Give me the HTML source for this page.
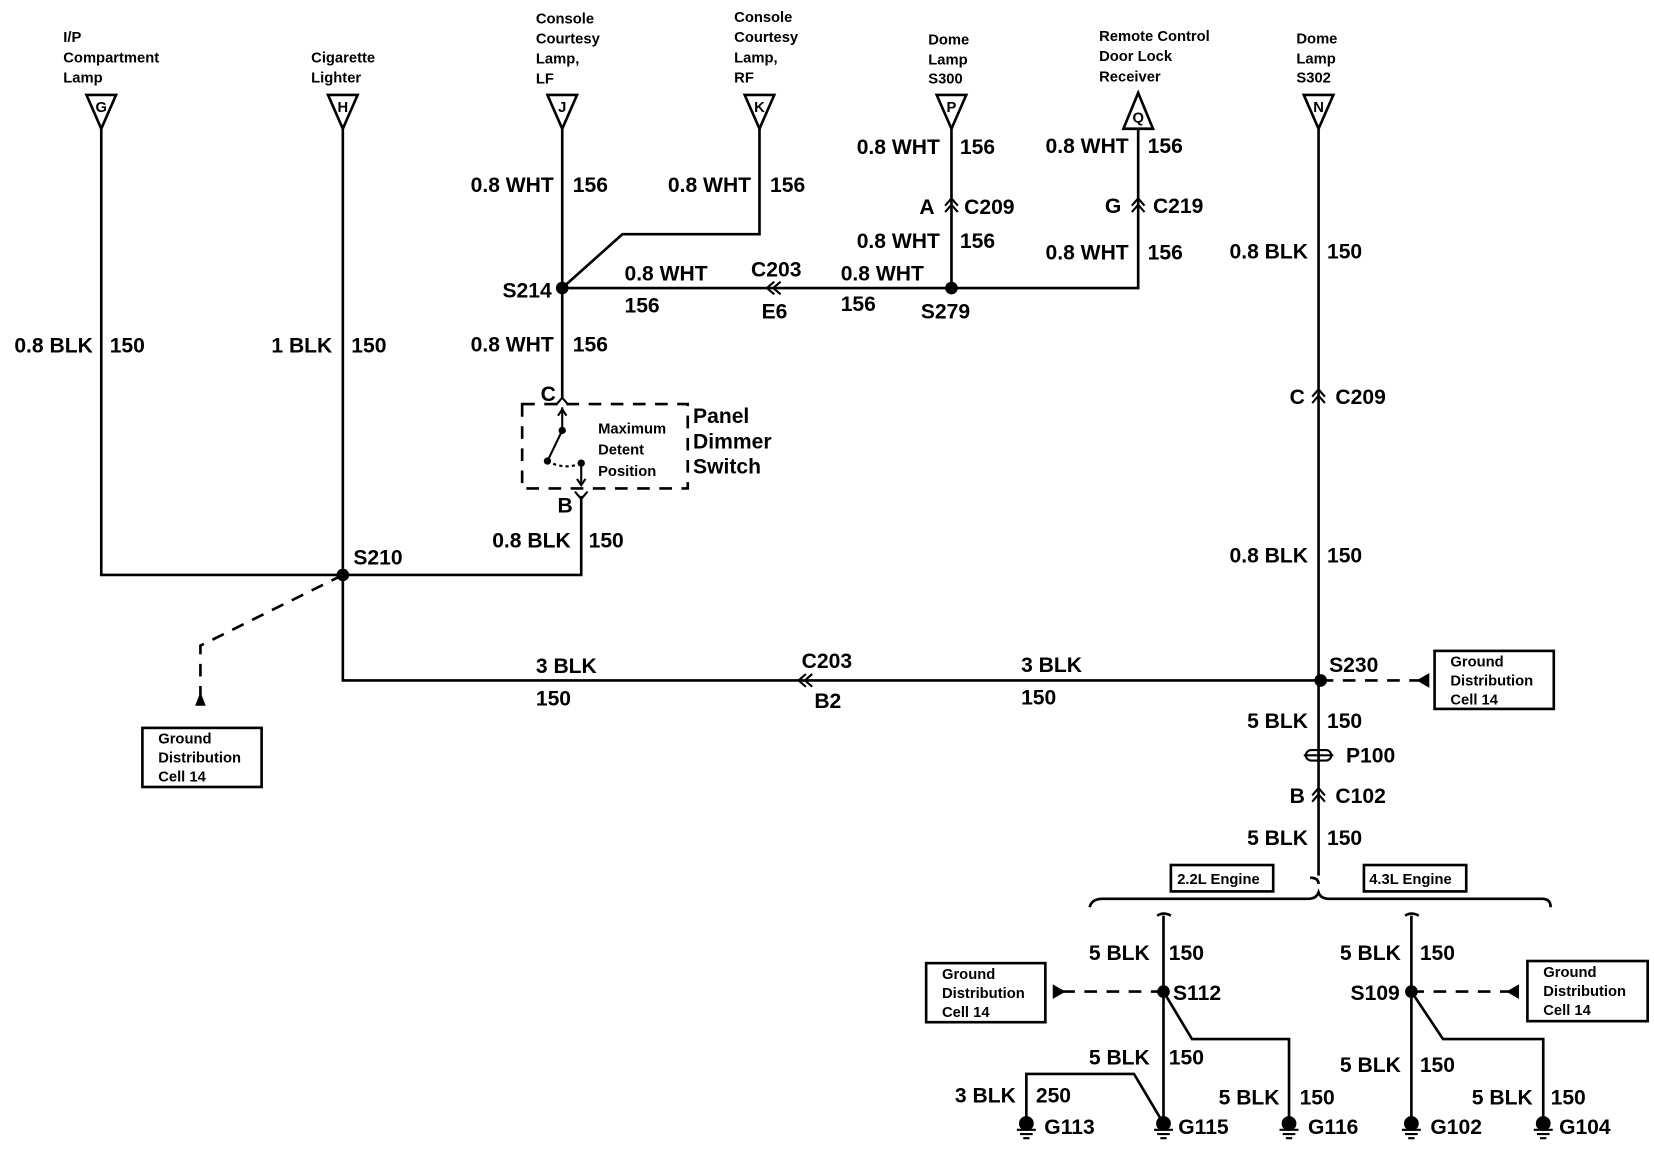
<!DOCTYPE html>
<html><head><meta charset="utf-8"><style>
html,body{margin:0;padding:0;background:#fff;}
svg{display:block;}
text{font-family:"Liberation Sans",Arial,sans-serif;font-weight:bold;fill:#000;}
.l{font-size:20px;}
.s{font-size:14px;}
.r{text-anchor:end;}
.m{text-anchor:middle;}
</style></head><body>
<svg width="1654" height="1152" viewBox="0 0 1568 1092" xmlns="http://www.w3.org/2000/svg">
<g fill="none" stroke="#000" stroke-width="2.5">
<path d="M82,90 L110,90 L96,122 Z"/>
<path d="M311,90 L339,90 L325,122 Z"/>
<path d="M519,90 L547,90 L533,122 Z"/>
<path d="M706,90 L734,90 L720,122 Z"/>
<path d="M888,90 L916,90 L902,122 Z"/>
<path d="M1065,122 L1093,122 L1079,88 Z"/>
<path d="M1236,90 L1264,90 L1250,122 Z"/>
<path d="M96,122 V545 H551 V470"/>
<path d="M325,122 V645 H1252"/>
<path d="M533,122 V378"/>
<path d="M533,273 L590,222 H720 V122"/>
<path d="M533,273 H1079 V122"/>
<path d="M902,122 V273"/>
<path d="M1250,122 V830"/>
<path d="M1242,832 Q1250,832 1250,838"/>
<path d="M1033,860 Q1035,852 1045,852 H1240 Q1248,852 1250,846 Q1252,852 1260,852 H1462 Q1470,852 1470,860"/>
<path d="M1103,868 V1065"/>
<path d="M1097,868 Q1103,864 1110,868"/>
<path d="M1103,940 L1130,985 H1222 V1065"/>
<path d="M973,1065 V1018 H1075 L1100,1060"/>
<path d="M1338,868 V1065"/>
<path d="M1332,868 Q1338,864 1345,868"/>
<path d="M1338,940 L1368,985 H1463 V1065"/>
<g stroke-dasharray="12,9">
<path d="M325,545 L190,612 V665"/>
<path d="M1252,645 H1345"/>
<path d="M1103,940 H1005"/>
<path d="M1338,940 H1432"/>
<rect x="495" y="383" width="157" height="80"/>
</g>
<rect x="135" y="690" width="113" height="56"/>
<rect x="1360" y="617" width="113" height="55"/>
<rect x="878" y="913" width="113" height="56"/>
<rect x="1448" y="911" width="114" height="57"/>
<rect x="1110" y="820" width="97" height="25"/>
<rect x="1293" y="820" width="97" height="25"/>
<path d="M896,201 L902,194 L908,201 M896,195 L902,188 L908,195" stroke-width="2"/>
<path d="M1073,201 L1079,194 L1085,201 M1073,195 L1079,188 L1085,195" stroke-width="2"/>
<path d="M1244,382 L1250,375 L1256,382 M1244,376 L1250,369 L1256,376" stroke-width="2"/>
<path d="M1244,760 L1250,753 L1256,760 M1244,754 L1250,747 L1256,754" stroke-width="2"/>
<path d="M740,267 L733,273 L740,279 M734,267 L727,273 L734,279" stroke-width="2"/>
<path d="M770,639 L763,645 L770,651 M764,639 L757,645 L764,651" stroke-width="2"/>
<path d="M527,384 L533,377 L539,384" stroke-width="2"/>
<path d="M545,466 L551,473 L557,466" stroke-width="2"/>
<path d="M533,386 V408 L519,437" stroke-width="2"/>
<path d="M533,388 l-4,6 M533,388 l4,6" stroke-width="2"/>
<path d="M519,437 Q535,446 551,439" stroke-dasharray="3,3" stroke-width="2"/>
<path d="M551,439 V460 M547,454 l4,6 l4,-6" stroke-width="2"/>
<rect x="1238" y="711" width="24" height="10" rx="5" stroke-width="2"/>
<path d="M1236,716 H1264" stroke-width="2"/>
</g>
<g fill="#000">
<circle cx="325" cy="545" r="6"/><circle cx="533" cy="273" r="6"/><circle cx="902" cy="273" r="6"/>
<circle cx="1252" cy="645" r="6"/><circle cx="1103" cy="940" r="6"/><circle cx="1338" cy="940" r="6"/>
<circle cx="533" cy="408" r="3.5"/><circle cx="519" cy="437" r="3.5"/><circle cx="551" cy="439" r="3.5"/>
<path d="M190,656 L185,669 L195,669 Z"/>
<path d="M1355,638 L1355,652 L1343,645 Z"/>
<path d="M998,933 L998,947 L1010,940 Z"/>
<path d="M1440,933 L1440,947 L1428,940 Z"/>
</g>
<g stroke="#000" stroke-width="2" fill="#000">
<g transform="translate(973,1065)"><circle r="6"/><path d="M-9,6 H9 M-6,10 H6 M-3,14 H3" fill="none"/></g>
<g transform="translate(1103,1065)"><circle r="6"/><path d="M-9,6 H9 M-6,10 H6 M-3,14 H3" fill="none"/></g>
<g transform="translate(1222,1065)"><circle r="6"/><path d="M-9,6 H9 M-6,10 H6 M-3,14 H3" fill="none"/></g>
<g transform="translate(1338,1065)"><circle r="6"/><path d="M-9,6 H9 M-6,10 H6 M-3,14 H3" fill="none"/></g>
<g transform="translate(1463,1065)"><circle r="6"/><path d="M-9,6 H9 M-6,10 H6 M-3,14 H3" fill="none"/></g>
</g>
<g class="s m"><text x="96" y="106">G</text><text x="325" y="106">H</text><text x="533" y="106">J</text><text x="720" y="106">K</text><text x="902" y="106">P</text><text x="1079" y="116">Q</text><text x="1250" y="106">N</text></g>
<g class="s">
<text x="60" y="40">I/P</text><text x="60" y="59">Compartment</text><text x="60" y="78">Lamp</text>
<text x="295" y="59">Cigarette</text><text x="295" y="78">Lighter</text>
<text x="508" y="22">Console</text><text x="508" y="41">Courtesy</text><text x="508" y="60">Lamp,</text><text x="508" y="79">LF</text>
<text x="696" y="21">Console</text><text x="696" y="40">Courtesy</text><text x="696" y="59">Lamp,</text><text x="696" y="78">RF</text>
<text x="880" y="42">Dome</text><text x="880" y="61">Lamp</text><text x="880" y="79">S300</text>
<text x="1042" y="39">Remote Control</text><text x="1042" y="58">Door Lock</text><text x="1042" y="77">Receiver</text>
<text x="1229" y="41">Dome</text><text x="1229" y="60">Lamp</text><text x="1229" y="78">S302</text>
<text x="567" y="411">Maximum</text><text x="567" y="431">Detent</text><text x="567" y="451">Position</text>
<text x="150" y="705">Ground</text><text x="150" y="723">Distribution</text><text x="150" y="741">Cell 14</text>
<text x="1375" y="632">Ground</text><text x="1375" y="650">Distribution</text><text x="1375" y="668">Cell 14</text>
<text x="893" y="928">Ground</text><text x="893" y="946">Distribution</text><text x="893" y="964">Cell 14</text>
<text x="1463" y="926">Ground</text><text x="1463" y="944">Distribution</text><text x="1463" y="962">Cell 14</text>
<text x="1116" y="838">2.2L Engine</text><text x="1298" y="838">4.3L Engine</text>
</g>
<g class="l">
<text class="r" x="88" y="334">0.8 BLK</text><text x="104" y="334">150</text>
<text class="r" x="315" y="334">1 BLK</text><text x="333" y="334">150</text>
<text class="r" x="525" y="182">0.8 WHT</text><text x="543" y="182">156</text>
<text class="r" x="712" y="182">0.8 WHT</text><text x="730" y="182">156</text>
<text class="r" x="525" y="333">0.8 WHT</text><text x="543" y="333">156</text>
<text class="r" x="523" y="282">S214</text>
<text x="592" y="266">0.8 WHT</text><text x="592" y="296">156</text>
<text x="712" y="262">C203</text><text x="722" y="302">E6</text>
<text x="797" y="266">0.8 WHT</text><text x="797" y="295">156</text>
<text x="873" y="302">S279</text>
<text class="r" x="891" y="146">0.8 WHT</text><text x="910" y="146">156</text>
<text class="r" x="886" y="203">A</text><text x="914" y="203">C209</text>
<text class="r" x="891" y="235">0.8 WHT</text><text x="910" y="235">156</text>
<text class="r" x="1070" y="145">0.8 WHT</text><text x="1088" y="145">156</text>
<text class="r" x="1063" y="202">G</text><text x="1093" y="202">C219</text>
<text class="r" x="1070" y="246">0.8 WHT</text><text x="1088" y="246">156</text>
<text class="r" x="1240" y="245">0.8 BLK</text><text x="1258" y="245">150</text>
<text class="r" x="1237" y="383">C</text><text x="1266" y="383">C209</text>
<text class="r" x="1240" y="533">0.8 BLK</text><text x="1258" y="533">150</text>
<text x="1260" y="637">S230</text>
<text class="r" x="1240" y="690">5 BLK</text><text x="1258" y="690">150</text>
<text x="1276" y="723">P100</text>
<text class="r" x="1237" y="761">B</text><text x="1266" y="761">C102</text>
<text class="r" x="1240" y="801">5 BLK</text><text x="1258" y="801">150</text>
<text class="r" x="527" y="380">C</text>
<text class="r" x="543" y="486">B</text>
<text x="657" y="401">Panel</text><text x="657" y="425">Dimmer</text><text x="657" y="449">Switch</text>
<text class="r" x="541" y="519">0.8 BLK</text><text x="558" y="519">150</text>
<text x="335" y="535">S210</text>
<text x="508" y="638">3 BLK</text><text x="508" y="669">150</text>
<text x="760" y="633">C203</text><text x="772" y="671">B2</text>
<text x="968" y="637">3 BLK</text><text x="968" y="668">150</text>
<text class="r" x="1090" y="910">5 BLK</text><text x="1108" y="910">150</text>
<text x="1112" y="948">S112</text>
<text class="r" x="1090" y="1009">5 BLK</text><text x="1108" y="1009">150</text>
<text class="r" x="963" y="1045">3 BLK</text><text x="982" y="1045">250</text>
<text class="r" x="1213" y="1047">5 BLK</text><text x="1232" y="1047">150</text>
<text x="990" y="1075">G113</text><text x="1117" y="1075">G115</text><text x="1240" y="1075">G116</text>
<text class="r" x="1328" y="910">5 BLK</text><text x="1346" y="910">150</text>
<text class="r" x="1327" y="948">S109</text>
<text class="r" x="1328" y="1016">5 BLK</text><text x="1346" y="1016">150</text>
<text class="r" x="1453" y="1047">5 BLK</text><text x="1470" y="1047">150</text>
<text x="1356" y="1075">G102</text><text x="1478" y="1075">G104</text>
</g>
</svg>
</body></html>
